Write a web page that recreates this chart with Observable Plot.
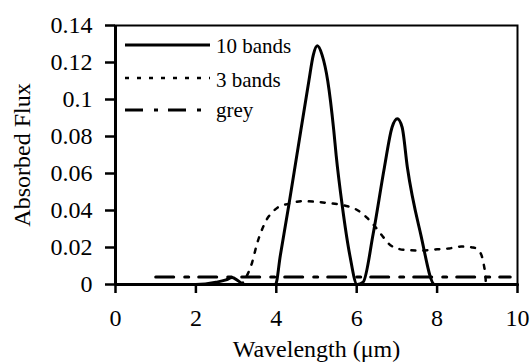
<!DOCTYPE html>
<html><head><meta charset="utf-8">
<script src="https://cdn.jsdelivr.net/npm/d3@7"></script>
<script src="https://cdn.jsdelivr.net/npm/@observablehq/plot@0.6"></script>
<style>body{margin:0;background:#fff}#chart{width:530px;height:363px}</style>
</head><body><div id="chart"></div>
<script>
// ---- data ----
const bands10X = [1, 2.0, 2.5, 2.75, 2.9, 3.05, 3.2, 3.98, 4.10, 4.31, 4.51, 4.61, 4.81, 4.92, 5.02, 5.14, 5.28, 5.43, 5.49, 5.64, 5.83, 6.01, 6.16, 6.41, 6.69, 6.88, 7.01, 7.13, 7.26, 7.59, 7.94, 10];
const bands10Y = [0, 0, 0.0012, 0.0025, 0.0038, 0.002, 0, 0, 0.0157, 0.0427, 0.0697, 0.0832, 0.110, 0.124, 0.129, 0.124, 0.110, 0.0832, 0.0697, 0.0427, 0.0157, 0, 0.0013, 0.0274, 0.0634, 0.085, 0.0896, 0.085, 0.0634, 0.0274, 0, 0];
const bands3X = [1, 3.1, 3.25, 3.4, 3.52, 3.65, 3.77, 3.9, 4.06, 4.3, 4.65, 5.0, 5.3, 5.7, 5.95, 6.1, 6.26, 6.43, 6.63, 6.8, 7.0, 7.3, 7.6, 8.0, 8.3, 8.6, 8.9, 9.05, 9.15, 9.2, 9.22, 10];
const bands3Y = [0, 0, 0.004, 0.012, 0.022, 0.030, 0.0355, 0.039, 0.042, 0.0436, 0.045, 0.0447, 0.044, 0.0427, 0.041, 0.039, 0.036, 0.032, 0.0265, 0.022, 0.0195, 0.0185, 0.0184, 0.019, 0.0195, 0.0205, 0.020, 0.018, 0.012, 0.005, 0, 0];
const greyX = [1, 9.82];
const greyY = [0.004, 0.004];
const seriesNames = ["10 bands", "3 bands", "grey"];
const xTicks = [0, 2, 4, 6, 8, 10];
const xTickLabels = ["0", "2", "4", "6", "8", "10"];
const yTicks = [0, 0.02, 0.04, 0.06, 0.08, 0.1, 0.12, 0.14];
const yTickLabels = ["0", "0.02", "0.04", "0.06", "0.08", "0.1", "0.12", "0.14"];
const xLabel = "Wavelength (\u03bcm)";
const yLabel = "Absorbed Flux";

// ---- build table ----
const toRows = (name, xs, ys) => xs.map((x, i) => ({series: name, x, y: ys[i]}));
const rows10 = toRows(seriesNames[0], bands10X, bands10Y);
const rows3 = toRows(seriesNames[1], bands3X, bands3Y);
const rowsG = toRows(seriesNames[2], greyX, greyY);

const styles = {
  "10 bands": {strokeWidth: 3, strokeDasharray: null},
  "3 bands": {strokeWidth: 2.5, strokeDasharray: "4,8"},
  "grey": {strokeWidth: 3, strokeDasharray: "18,11,4,10"}
};
const font = "'Liberation Serif','Times New Roman',serif";

const plot = Plot.plot({
  width: 530, height: 363,
  marginLeft: 115, marginRight: 13, marginTop: 25, marginBottom: 79,
  style: {fontFamily: font, fontSize: "24px", color: "#000", background: "#fff"},
  x: {domain: [0, 10]},
  y: {domain: [0, 0.14]},
  marks: [
    Plot.frame({stroke: "#000", strokeWidth: 2}),
    Plot.line(rowsG, {x: "x", y: "y", stroke: "#000", strokeWidth: styles.grey.strokeWidth, strokeDasharray: styles.grey.strokeDasharray}),
    Plot.line(rows3, {x: "x", y: "y", stroke: "#000", strokeWidth: styles["3 bands"].strokeWidth, strokeDasharray: styles["3 bands"].strokeDasharray, curve: "monotone-x"}),
    Plot.line(rows10, {x: "x", y: "y", stroke: "#000", strokeWidth: styles["10 bands"].strokeWidth, curve: "monotone-x"}),
    Plot.ruleY([0], {stroke: "#000", strokeWidth: 3}),
    Plot.ruleX([0], {stroke: "#000", strokeWidth: 3}),
    Plot.axisX({ticks: xTicks, tickFormat: d => xTickLabels[xTicks.indexOf(d)], tickSize: 9, tickPadding: 15, strokeWidth: 2.5,
      label: xLabel, labelAnchor: "center", labelArrow: "none", labelOffset: 72}),
    Plot.axisY({ticks: yTicks, tickFormat: d => yTickLabels[yTicks.indexOf(d)], tickSize: 10, tickPadding: 13, strokeWidth: 2.5,
      label: yLabel, labelAnchor: "center", labelArrow: "none", labelOffset: 103})
  ]
});
document.getElementById("chart").appendChild(plot);

// ---- legend (inside the frame, top left) ----
const svg = d3.select(plot);
const leg = svg.append("g").attr("font-family", font).attr("font-size", 21).attr("fill", "#000").attr("text-anchor", "start");
const legLineY = [45, 78, 110];
const legTextY = [53, 87, 117];
seriesNames.forEach((name, i) => {
  const st = styles[name];
  leg.append("line").attr("x1", 125).attr("x2", 210).attr("y1", legLineY[i]).attr("y2", legLineY[i])
    .attr("stroke", "#000").attr("stroke-width", st.strokeWidth)
    .attr("stroke-dasharray", st.strokeDasharray);
  leg.append("text").attr("x", 216).attr("y", legTextY[i]).text(name);
});
</script>
</body></html>
